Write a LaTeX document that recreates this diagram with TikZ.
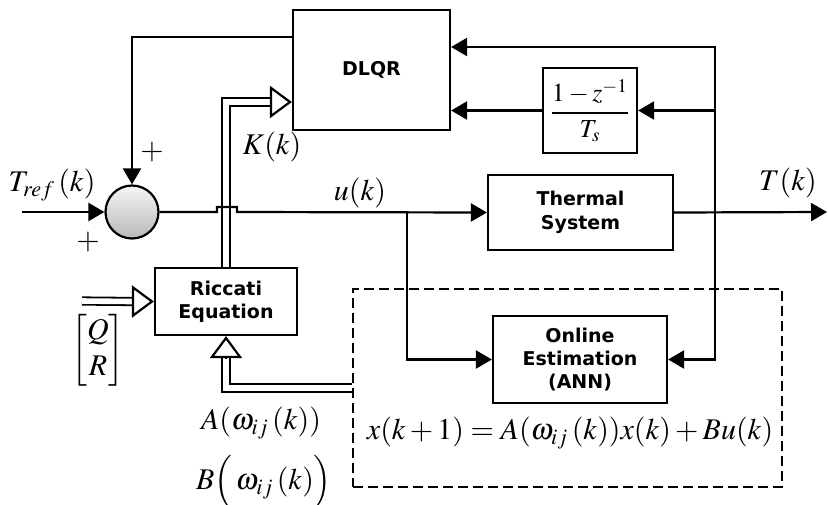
\documentclass[tikz,border=0pt]{standalone}
\usepackage{amsmath}
\usepackage{mathptmx}
\usepackage{fontspec}
\newfontfamily\blockfont{DejaVu Sans}
\usepackage{tikz}
\usetikzlibrary{arrows.meta}

\tikzset{
	block/.style={draw, line width=1.1pt, align=center, inner sep=0pt,
		font=\blockfont\bfseries\fontsize{9.5}{11.7}\selectfont},
	sig/.style={line width=1.1pt},
	arr/.style={sig, -{Triangle[length=8pt,width=9pt]}},
	dbl/.style={line width=0.9pt, double, double distance=2.8pt},
	hollow/.style={line width=1.1pt, -{Triangle[open,length=11pt,width=16pt]}},
	lbl/.style={font=\fontsize{15}{18}\selectfont, inner sep=0pt}
}

\begin{document}
\begin{tikzpicture}[x=0.5pt,y=-0.5pt]
	\useasboundingbox (0,0) rectangle (828,504);
	
	% Blocks
	\node[block, minimum width=78.5pt, minimum height=60pt] (dlqr) at (371.5,70) {DLQR};
	\node[block, minimum width=47pt, minimum height=42.5pt, font=\fontsize{13}{15}\selectfont] (diff) at (590,110.5) {$\displaystyle\frac{1-z^{-1}}{T_s}$};
	\node[block, minimum width=92.5pt, minimum height=37.5pt] (plant) at (580.5,212.5) {Thermal\\System};
	\node[block, minimum width=71pt, minimum height=33.5pt] (riccati) at (226,301.5) {Riccati\\Equation};
	\node[block, minimum width=87pt, minimum height=43.5pt] (ann) at (580,359.5) {Online\\Estimation\\(ANN)};
	\node[circle, draw, line width=1.1pt, minimum size=26.5pt, inner sep=0pt,
		top color=gray!8, bottom color=gray!55] (sum) at (132,212) {};
	
	% Estimator frame
	\node[draw, line width=1.1pt, dash pattern=on 5pt off 2.5pt, minimum width=214.5pt, minimum height=99pt] (est) at (567.5,388) {};
	
	% Free ends
	\coordinate (tin) at (22,212);
	\coordinate (tout) at (827,212);
	\coordinate (ubr) at (407,212);
	\coordinate (tap) at (715,212);
	\coordinate (qr) at (82,301);
	\coordinate (kin) at (dlqr.west |- 0,102);
	
	% Gain and model paths
	\draw[dbl] (riccati.north) |- ([xshift=-11pt]kin);
	\draw[hollow] ([xshift=-11pt]kin) -- (kin);
	\draw[dbl] (qr) -- ([xshift=-11pt]riccati.west);
	\draw[hollow] ([xshift=-11pt]riccati.west) -- (riccati.west);
	\draw[dbl] (est.west) -| ([yshift=-11pt]riccati.south);
	\draw[hollow] ([yshift=-11pt]riccati.south) -- (riccati.south);
	
	% Signal paths
	\draw[arr] (tin) -- (sum.west);
	\draw[arr] (dlqr.west |- 0,37) -| (sum.north);
	\draw[arr] (sum.east) -- (217,212) -- (217,207) -- (237,207) -- (237,212) -- (plant.west);
	\draw[arr] (ubr) |- (ann.west);
	\draw[arr] (plant.east) -- (tout);
	\draw[arr] (tap) |- (dlqr.east |- 0,47);
	\draw[arr] (tap |- diff.east) -- (diff.east);
	\draw[arr] (tap) |- (ann.east);
	\draw[arr] (diff.west) -- (dlqr.east |- diff.west);
	
	% Labels
	\node[lbl] (tref) at (52,185) {$T_{ref}\,(k)$};
	\node[lbl] (plusa) at (152,152) {$+$};
	\node[lbl] (plusb) at (88,242) {$+$};
	\node[lbl] (klbl) at (272,147) {$K(k)$};
	\node[lbl] (ulbl) at (360,193) {$u(k)$};
	\node[lbl] (tlbl) at (788,183) {$T(k)$};
	\node[lbl] (qrlbl) at (98,350) {$\begin{bmatrix}Q\\R\end{bmatrix}$};
	\node[lbl] (albl) at (261,423) {$A(\omega_{ij}\,(k))$};
	\node[lbl] (blbl) at (264,482) {$B\Bigl(\,\omega_{ij}\,(k)\Bigr)$};
	\node[lbl] (eq) at (570,433) {$x(k+1)=A(\omega_{ij}\,(k))x(k)+Bu(k)$};
\end{tikzpicture}
\end{document}
